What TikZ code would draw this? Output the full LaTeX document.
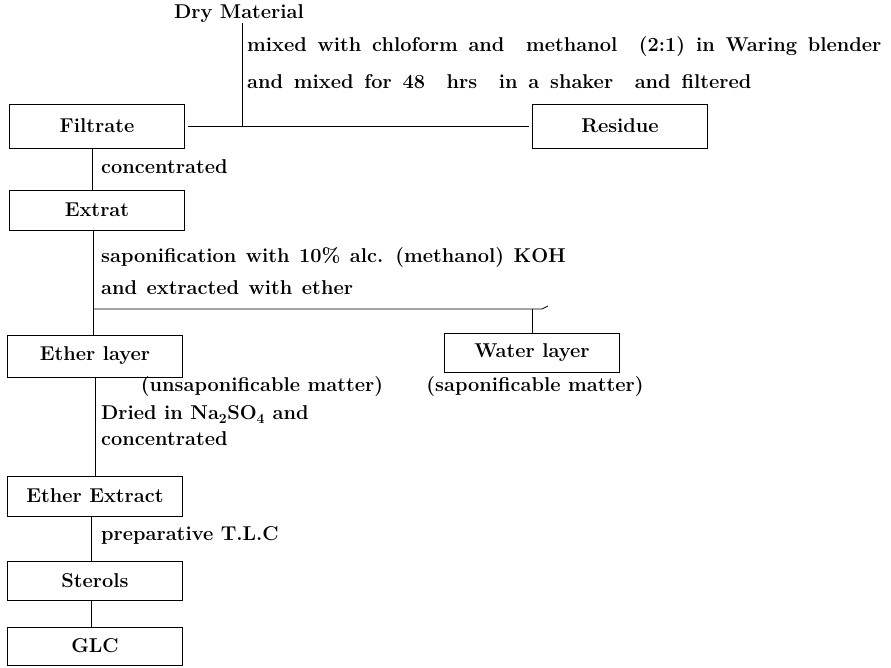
\documentclass[tikz,border=0pt]{standalone}
\usepackage{tikz}
\usetikzlibrary{calc, positioning}

\newcommand{\mixskip}{\spaceskip=10.8pt\relax}
\newcommand{\sapskip}{\spaceskip=9.5pt\relax}

\begin{document}
\begin{tikzpicture}[
  x=1pt, y=-1pt,
  box/.style ={rectangle, draw=black, line width=0.8pt,
               minimum width=175pt, minimum height=41pt,
               align=center, font=\fontsize{20}{24}\selectfont\bfseries},
  txt/.style ={inner sep=0pt, align=left,
               font=\fontsize{20}{24}\selectfont\bfseries},
  ln/.style  ={line width=0.8pt, color=black},
]
\useasboundingbox (0,0) rectangle (891,667);

%% ═══ Cabecera: material seco ═══
\node[txt] (DRY) at (239,14) {Dry Material};
\coordinate (JMX) at (242,126);

\node[box, minimum height=44pt] (FIL) at (97,126)  {Filtrate};
\node[box, minimum height=44pt] (RES) at (620,126) {Residue};

\node[txt, anchor=west, font=\fontsize{20}{37}\selectfont\bfseries\mixskip]
  (MIX) at (247,62.5)
  {mixed with chloform and\ \ methanol\ \ (2:1) in Waring blender\\
   and mixed for 48\ \ hrs\ \ in a shaker\ \ and filtered};

\draw[ln] (JMX |- DRY.south) -- (JMX);
\draw[ln] ([xshift=3pt]FIL.east) -- ([xshift=-3pt]RES.west);

%% ═══ Concentrado ═══
\node[box, minimum height=40pt] (EXT) at (97,210) {Extrat};
\node[txt, anchor=west] (CON) at (101,167) {concentrated};

\draw[ln] ([xshift=-5pt]FIL.south) -- ([xshift=-5pt]EXT.north);

%% ═══ Saponificacion ═══
\node[txt, anchor=west, font=\fontsize{20}{32}\selectfont\bfseries\sapskip]
  (SAP) at (101,271)
  {saponification with 10\% alc. (methanol) KOH\\
   and extracted with ether};

\node[box, minimum height=42pt] (ETL) at (95,356)  {Ether layer};
\node[box, minimum height=39pt] (WTL) at (532,353) {Water layer};

\node[txt] (UNS) at (262,387) {(unsaponificable matter)};
\node[txt] (SPM) at (535,387) {(saponificable matter)};

\coordinate (JSP) at (93,309);
\coordinate (JWT) at (542,309);

\draw[ln] (JSP |- EXT.south) -- (JSP |- ETL.north);
\draw[ln] (JSP) -- (JWT) -- ++(6,-3);
\draw[ln] (JSP -| WTL.north) -- (WTL.north);

%% ═══ Extracto etereo ═══
\node[txt, anchor=west, font=\fontsize{20}{26}\selectfont\bfseries]
  (DRI) at (101,426)
  {Dried in Na\textsubscript{2}SO\textsubscript{4} and\\concentrated};

\node[box, minimum height=40pt] (EEX) at (95,496) {Ether Extract};
\node[txt, anchor=west] (TLC) at (101,535) {preparative T.L.C};
\node[box, minimum height=39pt] (STE) at (95,581) {Sterols};
\node[box, minimum height=38pt] (GLC) at (95,646) {GLC};

\draw[ln] (ETL.south) -- (EEX.north);
\draw[ln] ([xshift=-4pt]EEX.south) -- ([xshift=-4pt]STE.north);
\draw[ln] ([xshift=-4pt]STE.south) -- ([xshift=-4pt]GLC.north);

\end{tikzpicture}
\end{document}
